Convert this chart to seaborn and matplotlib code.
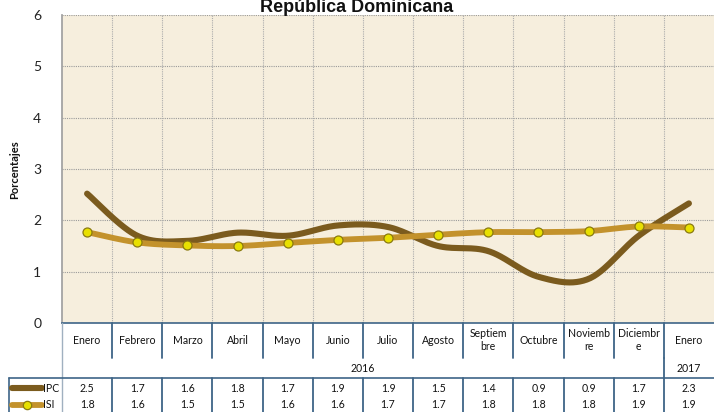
import numpy as np
import pandas as pd
import matplotlib
matplotlib.use("Agg")
import matplotlib.pyplot as plt
import seaborn as sns

months = ["Enero", "Febrero", "Marzo", "Abril", "Mayo", "Junio", "Julio", "Agosto",
          "Septiem\nbre", "Octubre", "Noviemb\nre", "Diciembr\ne", "Enero"]
years = ["2016", "2017"]
ipc = [2.52, 1.70, 1.60, 1.76, 1.70, 1.90, 1.87, 1.50, 1.40, 0.90, 0.86, 1.70, 2.33]
isi = [1.77, 1.57, 1.51, 1.50, 1.56, 1.62, 1.66, 1.72, 1.77, 1.77, 1.79, 1.88, 1.86]
ipc_lbl = ["2.5", "1.7", "1.6", "1.8", "1.7", "1.9", "1.9", "1.5", "1.4", "0.9", "0.9", "1.7", "2.3"]
isi_lbl = ["1.8", "1.6", "1.5", "1.5", "1.6", "1.6", "1.7", "1.7", "1.8", "1.8", "1.8", "1.9", "1.9"]

sns.set_theme(style="white")
plt.rcParams["font.family"] = ["Lato", "DejaVu Sans"]

C_IPC = "#7b5b1e"
C_ISI = "#c3922c"
C_MK = "#e8e000"
C_BG = "#f6eedd"
C_TBL = "#3e6587"

W, H = 714, 412
fig = plt.figure(figsize=(W / 100, H / 100), dpi=100)
L, R, T, B = 62, 714, 15, 323
ax = fig.add_axes([L / W, 1 - B / H, (R - L) / W, (B - T) / H])
ax.set_facecolor(C_BG)


def smooth(xs, ys, n=30):
    xs = np.asarray(xs, float); ys = np.asarray(ys, float)
    px, py = [], []
    m = len(xs)
    for i in range(m - 1):
        i0 = max(i - 1, 0); i3 = min(i + 2, m - 1)
        p0 = np.array([xs[i0], ys[i0]]); p1 = np.array([xs[i], ys[i]])
        p2 = np.array([xs[i + 1], ys[i + 1]]); p3 = np.array([xs[i3], ys[i3]])
        b1 = p1 + (p2 - p0) / 6.0
        b2 = p2 - (p3 - p1) / 6.0
        t = np.linspace(0, 1, n)[:, None]
        pts = ((1 - t) ** 3) * p1 + 3 * ((1 - t) ** 2) * t * b1 + 3 * (1 - t) * t ** 2 * b2 + t ** 3 * p2
        px.extend(pts[:, 0]); py.extend(pts[:, 1])
    return np.array(px), np.array(py)


idx = np.arange(len(months))
sx, sy = smooth(idx, ipc)
df_ipc = pd.DataFrame({"x": sx, "y": sy})
sx2, sy2 = smooth(idx, isi)
df_isi = pd.DataFrame({"x": sx2, "y": sy2})

sns.lineplot(data=df_isi, x="x", y="y", ax=ax, color=C_ISI, lw=4.2, sort=False,
             estimator=None, zorder=3)
sns.lineplot(data=df_ipc, x="x", y="y", ax=ax, color=C_IPC, lw=4.4, sort=False,
             estimator=None, zorder=2)
sns.scatterplot(x=idx, y=isi, ax=ax, color=C_MK, edgecolor="#8a7a10", s=42,
                linewidth=0.9, zorder=4)

ax.set_xlim(-0.5, len(months) - 0.5)
ax.set_ylim(0, 6)
ax.set_yticks(range(0, 7))
ax.set_yticklabels([str(v) for v in range(0, 7)], fontsize=10, color="#222222")
ax.tick_params(axis="y", length=0, pad=15)
ax.set_xticks([])
ax.set_xlabel("")
ax.set_ylabel("")
for yv in range(1, 7):
    ax.axhline(yv, color="#9a9a9a", lw=0.8, ls=(0, (1, 1)), zorder=1)
for xv in np.arange(0.5, len(months) - 0.5, 1):
    ax.axvline(xv, color="#ababab", lw=0.8, ls=(0, (1, 1)), zorder=1)
for sp in ["top", "right"]:
    ax.spines[sp].set_visible(False)
ax.spines["left"].set_color("#a0a0a0")
ax.spines["bottom"].set_color(C_TBL)
ax.spines["bottom"].set_linewidth(1.2)

fig.text(15 / W, 1 - 170 / H, "Porcentajes", rotation=90, fontsize=8, fontweight="bold",
         ha="center", va="center", color="#111111")
fig.text(357 / W, 1 - 12 / H, "República Dominicana", fontsize=13, fontweight="bold",
         ha="center", va="baseline", family=["Liberation Sans", "DejaVu Sans"], color="#111111")

# table overlay in pixel coordinates
tx = fig.add_axes([0, 0, 1, 1], zorder=5)
tx.set_xlim(0, W); tx.set_ylim(H, 0); tx.axis("off")
tx.patch.set_alpha(0)
colw = (R - L) / len(months)
y_month_end = 358
y_year_line = 378
lc = C_TBL
for k in range(1, len(months)):
    xb = L + k * colw
    tx.plot([xb, xb], [B, y_month_end], color=lc, lw=1.3)
    tx.plot([xb, xb], [y_year_line, H], color=lc, lw=1.3)
xb = L + 12 * colw
tx.plot([xb, xb], [y_month_end, y_year_line], color=lc, lw=1.3)
tx.plot([L, L], [B, H], color="#a0b0c0", lw=1.0)
tx.plot([9, W], [y_year_line, y_year_line], color=lc, lw=1.2)
tx.plot([9, 9], [y_year_line, H], color=lc, lw=1.2)
for i, m in enumerate(months):
    cx = L + (i + 0.5) * colw
    tx.text(cx, 340, m, fontsize=7.6, ha="center", va="center", color="#111111", linespacing=1.3)
    tx.text(cx, 388, ipc_lbl[i], fontsize=7.6, ha="center", va="center", color="#111111")
    tx.text(cx, 405, isi_lbl[i], fontsize=7.6, ha="center", va="center", color="#111111")
tx.text(L + 6 * colw, 368, years[0], fontsize=7.6, ha="center", va="center", color="#111111")
tx.text(L + 12.5 * colw, 368, years[1], fontsize=7.6, ha="center", va="center", color="#111111")
tx.plot([12, 42], [388, 388], color=C_IPC, lw=4.4, solid_capstyle="round")
tx.plot([12, 42], [405, 405], color=C_ISI, lw=4.2, solid_capstyle="round")
tx.plot([27], [405], marker="o", ms=6, color=C_MK, mec="#8a7a10", mew=0.9)
tx.text(43, 388, "IPC", fontsize=7.6, ha="left", va="center", color="#111111")
tx.text(43, 405, "ISI", fontsize=7.6, ha="left", va="center", color="#111111")

fig.savefig("out.png", dpi=100, facecolor="white")
